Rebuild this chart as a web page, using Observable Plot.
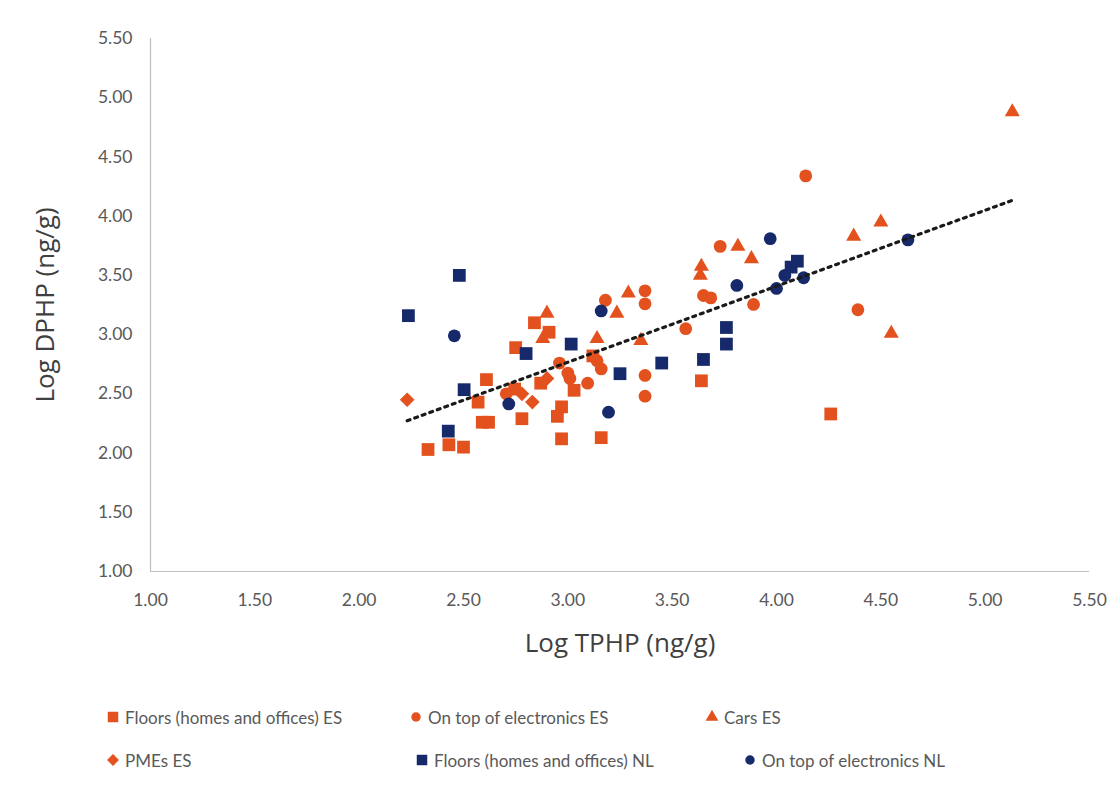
<!DOCTYPE html>
<html>
<head>
<meta charset="utf-8">
<script src="https://cdn.jsdelivr.net/npm/d3@7"></script>
<script src="https://cdn.jsdelivr.net/npm/@observablehq/plot@0.6"></script>
<style>
  html, body { margin: 0; padding: 0; background: #fff; }
  body { width: 1120px; height: 789px; position: relative; overflow: hidden; font-family: Lato, "Open Sans", sans-serif; }
  #chart { position: absolute; left: 0; top: 0; }
  .leg { position: absolute; font-size: 17px; color: #595959; white-space: nowrap; display: flex; align-items: center; }
  .leg svg { margin-right: 5px; }
</style>
</head>
<body>
<div id="chart"></div>
<div id="legend"></div>
<script>
// ---- Data ----
const seriesNames = [
  "Floors (homes and offices) ES",
  "On top of electronics ES",
  "Cars ES",
  "PMEs ES",
  "Floors (homes and offices) NL",
  "On top of electronics NL"
];
const xTitle = "Log TPHP (ng/g)";
const yTitle = "Log DPHP (ng/g)";

// [Log TPHP, Log DPHP]
const floorsES = [
  [2.33,2.03],[2.43,2.07],[2.50,2.05],[2.59,2.26],[2.62,2.26],[2.57,2.43],[2.61,2.62],
  [2.75,2.89],[2.84,3.10],[2.91,3.02],[2.78,2.29],[2.87,2.59],[2.745,2.54],[2.95,2.31],
  [2.97,2.39],[2.97,2.12],[3.16,2.13],[3.03,2.53],[3.12,2.82],[3.64,2.61],[4.26,2.33]
];
const electronicsES = [
  [2.705,2.50],[2.96,2.76],[3.00,2.675],[3.01,2.63],[3.095,2.59],[3.16,2.71],[3.14,2.78],
  [3.18,3.29],[3.37,3.37],[3.37,3.26],[3.37,2.655],[3.37,2.48],[3.565,3.05],[3.65,3.33],
  [3.685,3.31],[3.73,3.745],[3.89,3.255],[4.14,4.34],[4.39,3.21]
];
const carsES = [
  [2.90,3.18],[2.88,2.965],[3.14,2.965],[3.235,3.18],[3.29,3.35],[3.35,2.95],[3.64,3.575],
  [3.635,3.50],[3.815,3.745],[3.88,3.64],[4.37,3.83],[4.50,3.95],[4.55,3.01],[5.13,4.88]
];
const pmesES = [
  [2.23,2.45],[2.83,2.43],[2.90,2.63],[2.78,2.50]
];
const floorsNL = [
  [2.236,3.16],[2.48,3.50],[2.427,2.185],[2.503,2.535],[2.80,2.84],[3.016,2.92],[3.25,2.67],
  [3.45,2.76],[3.65,2.79],[3.76,3.06],[3.76,2.92],[4.10,3.62],[4.07,3.57]
];
const electronicsNL = [
  [2.456,2.99],[2.717,2.415],[3.16,3.20],[3.195,2.345],[3.81,3.415],[3.97,3.81],
  [4.00,3.39],[4.04,3.50],[4.13,3.48],[4.63,3.80]
];
const axisTicks = [1.0, 1.5, 2.0, 2.5, 3.0, 3.5, 4.0, 4.5, 5.0, 5.5];

// ---- Build table ----
const ORANGE = "#E3521E";
const BLUE = "#15296B";
const groups = [floorsES, electronicsES, carsES, pmesES, floorsNL, electronicsNL];
const styles = [
  {symbol: "square", r: 7.2, fill: ORANGE},
  {symbol: "circle", r: 6.4, fill: ORANGE},
  {symbol: "triangle", r: 5.6, fill: ORANGE},
  {symbol: "diamond2", r: 6.6, fill: ORANGE},
  {symbol: "square", r: 7.2, fill: BLUE},
  {symbol: "circle", r: 6.4, fill: BLUE}
];
const rows = groups.map((g, i) => g.map(([x, y]) => ({x, y, series: seriesNames[i]})));
const all = rows.flat();

const plot = Plot.plot({
  width: 1120,
  height: 680,
  marginLeft: 150,
  marginRight: 31,
  marginTop: 38,
  marginBottom: 109,
  style: {fontFamily: "Lato, 'Open Sans', sans-serif", fontSize: "17.5px", color: "#595959", background: "#fff"},
  x: {domain: [1, 5.5]},
  y: {domain: [1, 5.5]},
  marks: [
    Plot.ruleY([1], {stroke: "#bfbfbf", strokeWidth: 1.2}),
    Plot.ruleX([1], {stroke: "#bfbfbf", strokeWidth: 1.2}),
    Plot.axisX({ticks: axisTicks, tickFormat: d3.format(".2f"), tickSize: 0, tickPadding: 22, label: null, fill: "#595959"}),
    Plot.axisY({ticks: axisTicks, tickFormat: d3.format(".2f"), tickSize: 0, tickPadding: 18, label: null, fill: "#595959"}),
    Plot.text([xTitle], {frameAnchor: "bottom", dy: 72, text: d => d, fontSize: 26, fontFamily: "'Open Sans', sans-serif", fill: "#404040", lineAnchor: "middle", textAnchor: "middle"}),
    Plot.text([yTitle], {frameAnchor: "left", dx: -105, rotate: -90, text: d => d, fontSize: 26, fontFamily: "'Open Sans', sans-serif", fill: "#404040", lineAnchor: "middle", textAnchor: "middle"}),
    ...rows.map((r, i) => Plot.dot(r, {x: "x", y: "y", symbol: () => styles[i].symbol, r: styles[i].r, fill: styles[i].fill, stroke: "none"})),
    Plot.linearRegressionY(all, {x: "x", y: "y", stroke: "#1a1a1a", strokeWidth: 3.2, strokeDasharray: "3,5", ci: 0})
  ]
});
document.getElementById("chart").appendChild(plot);

// ---- Legend (HTML) ----
const legendPos = [
  {left: 106, top: 705}, {left: 409, top: 705}, {left: 705, top: 705},
  {left: 106, top: 748}, {left: 415, top: 748}, {left: 743, top: 748}
];
const symbolTypes = {circle: d3.symbolCircle, square: d3.symbolSquare, triangle: d3.symbolTriangle, diamond2: d3.symbolDiamond2};
const symbolSizes = {square: 110, circle: 70, triangle: 70, diamond2: 90};
const legend = document.getElementById("legend");
seriesNames.forEach((name, i) => {
  const div = document.createElement("div");
  div.className = "leg";
  div.style.left = legendPos[i].left + "px";
  div.style.top = legendPos[i].top + "px";
  const sym = d3.symbol(symbolTypes[styles[i].symbol], symbolSizes[styles[i].symbol])();
  div.innerHTML = `<svg width="14" height="24" viewBox="-7 -12 14 24"><path d="${sym}" fill="${styles[i].fill}"/></svg><span>${name}</span>`;
  legend.appendChild(div);
});
</script>
</body>
</html>
